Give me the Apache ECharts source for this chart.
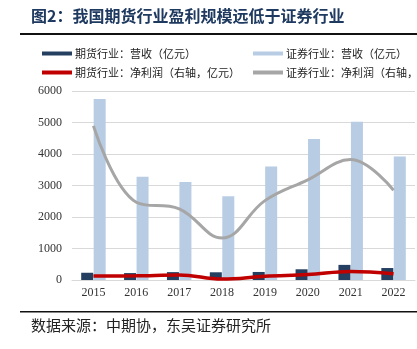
<!DOCTYPE html>
<html><head><meta charset="utf-8">
<script src="https://cdn.jsdelivr.net/npm/echarts@6/dist/echarts.min.js"></script>
<style>html,body{margin:0;padding:0;background:#fff}#c{width:417px;height:349px}</style>
</head><body><div id="c"></div>
<script>
const years = ['2015','2016','2017','2018','2019','2020','2021','2022'];
const futuresRevenue = [230, 220, 250, 245, 255, 340, 480, 380];
const securitiesRevenue = [5750, 3280, 3110, 2660, 3600, 4480, 5020, 3920];
const futuresProfit = [62, 66, 79, 14, 60, 86, 135, 100];
const securitiesProfit = [2447, 1234, 1130, 666, 1260, 1590, 1911, 1424];
const leftTicks = [0, 1000, 2000, 3000, 4000, 5000, 6000];

const names = ['期货行业：营收（亿元）','证券行业：营收（亿元）','期货行业：净利润（右轴，亿元）','证券行业：净利润（右轴，亿元）'];
const serif = '"Liberation Serif","Times New Roman",serif';
const cjk = '"Noto Sans CJK SC",sans-serif';
const chart = echarts.init(document.getElementById('c'));
const legendCommon = {orient:'vertical', itemWidth:30, itemHeight:4, itemGap:8, icon:'rect',
  textStyle:{fontFamily:cjk, fontSize:11, color:'#222', padding:[0,0,0,-2]}, padding:0};
chart.setOption({
  animation:false,
  backgroundColor:'#fff',
  graphic:[
    {type:'text', left:31, top:8, style:{text:'图2：我国期货行业盈利规模远低于证券行业', fontFamily:cjk, fontSize:16, fontWeight:'bold', fill:'#1f3a60'}},
    {type:'rect', shape:{x:20, y:33, width:397, height:2}, style:{fill:'#111'}},
    {type:'rect', shape:{x:20, y:311, width:397, height:1.5}, style:{fill:'#111'}},
    {type:'text', left:31, top:318, style:{text:'数据来源：中期协，东吴证券研究所', fontFamily:cjk, fontSize:15, fill:'#222'}}
  ],
  legend:[
    Object.assign({left:42, top:48, data:[names[0], names[2]]}, legendCommon),
    Object.assign({left:253, top:48, data:[names[1], names[3]]}, legendCommon)
  ],
  grid:{left:72, right:2, top:91, bottom:69, containLabel:false},
  xAxis:{type:'category', data:years, axisTick:{show:false},
    axisLine:{lineStyle:{color:'#d9d9d9'}},
    axisLabel:{fontFamily:serif, fontSize:12, color:'#333', margin:7}},
  yAxis:[
    {type:'value', min:leftTicks[0], max:leftTicks[leftTicks.length-1], interval:1000,
     axisLabel:{fontFamily:serif, fontSize:12, color:'#333', margin:10, formatter:v=>String(v)},
     splitLine:{lineStyle:{color:'#d9d9d9', width:1}}, axisLine:{show:false}, axisTick:{show:false}},
    {type:'value', min:0, max:3000, interval:500, show:false, splitLine:{show:false}}
  ],
  series:[
    {name:names[0], type:'bar', data:futuresRevenue, barWidth:12, barGap:'4%', itemStyle:{color:'#243f60'}},
    {name:names[1], type:'bar', data:securitiesRevenue, barWidth:12, barGap:'4%', itemStyle:{color:'#b8cce4'}},
    {name:names[3], type:'line', yAxisIndex:1, data:securitiesProfit, smooth:0.4, symbol:'none',
     lineStyle:{color:'#a6a6a6', width:3}, itemStyle:{color:'#a6a6a6'}},
    {name:names[2], type:'line', yAxisIndex:1, data:futuresProfit, smooth:0.4, symbol:'none',
     lineStyle:{color:'#c00000', width:3.5}, itemStyle:{color:'#c00000'}}
  ]
});
</script></body></html>
